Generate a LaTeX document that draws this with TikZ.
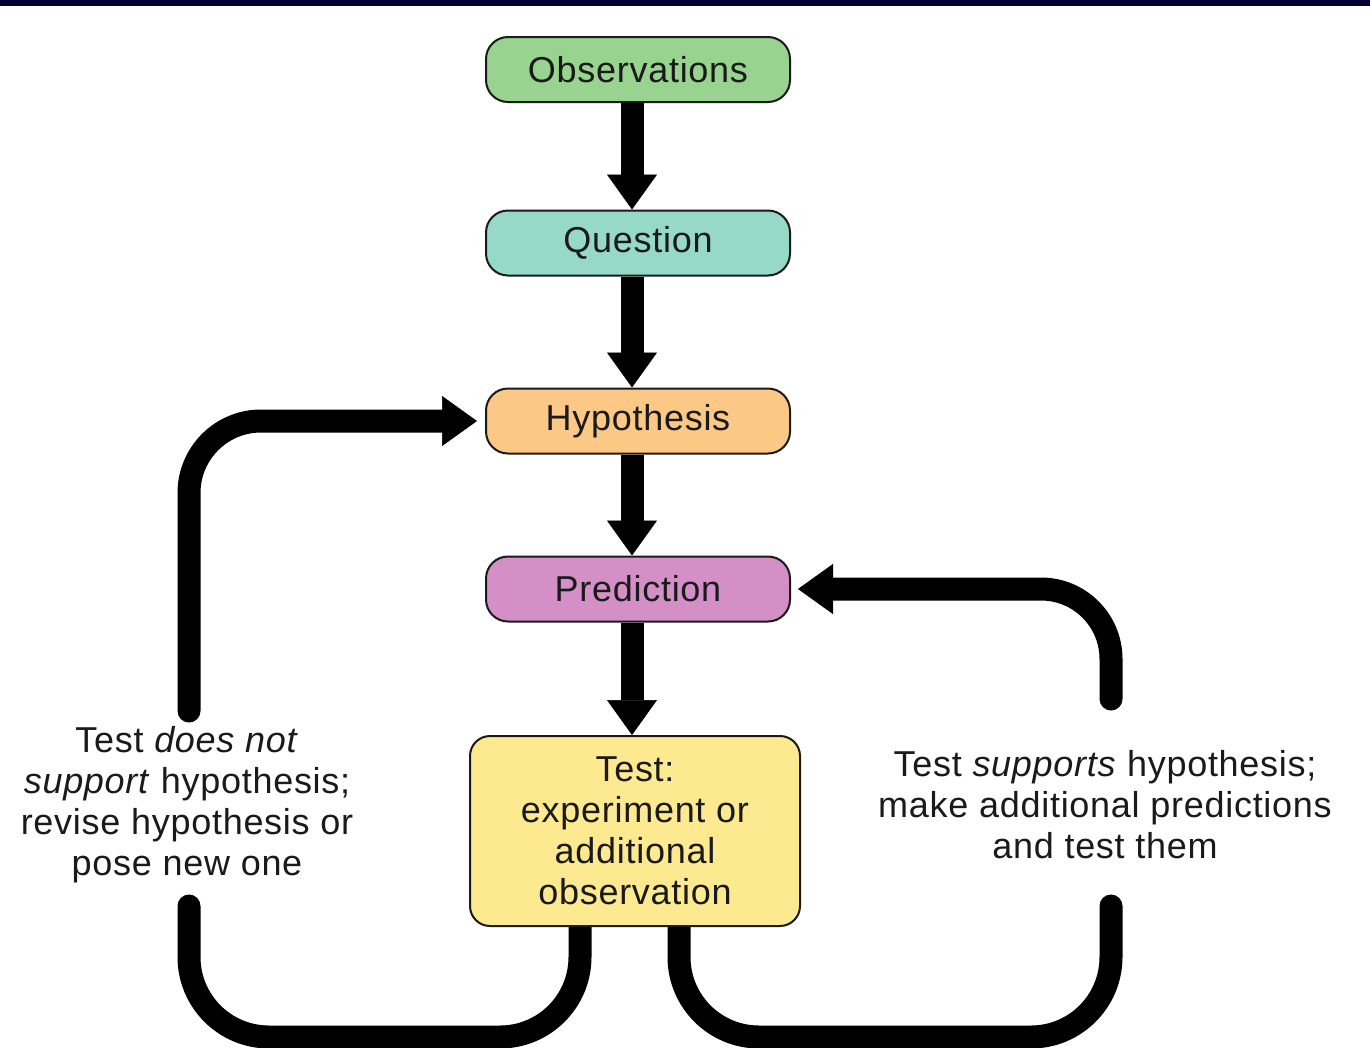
\documentclass[tikz,border=0pt]{standalone}
\usepackage{fontspec}
\setmainfont[LetterSpace=2]{Liberation Sans}
\usetikzlibrary{arrows.meta,backgrounds}
\definecolor{navy}{HTML}{000033}
\definecolor{obscol}{HTML}{98D48F}
\definecolor{quescol}{HTML}{96D9C8}
\definecolor{hypcol}{HTML}{FBC885}
\definecolor{predcol}{HTML}{D490C6}
\definecolor{testcol}{HTML}{FDE990}
\definecolor{ink}{HTML}{1A1A1A}
\begin{document}
\begin{tikzpicture}[x=1pt,y=-1pt,
  box/.style={draw=ink, line width=2pt, rounded corners=22pt, minimum width=304pt,
    minimum height=65pt, text=ink, font=\fontsize{36}{41}\selectfont, inner sep=0pt},
  bigtip/.style={-{Triangle[width=50pt,length=35pt,line width=0.5pt]}},
  flow/.style={line width=23pt, bigtip},
  loopline/.style={line width=23pt, line cap=round},
  lbl/.style={align=center, text=ink, font=\fontsize{36}{41}\selectfont, inner sep=0pt}]
\useasboundingbox (0,0) rectangle (1370,1047);
\fill[navy] (0,0) rectangle (1370,6);

\node[box, fill=obscol] (obs) at (638,69.5) {Observations};
\node[box, fill=quescol] (que) at (638,243) {Question};
\node[box, fill=hypcol] (hyp) at (638,421) {Hypothesis};
\node[box, fill=predcol] (pred) at (638,589) {Prediction};
\node[box, fill=testcol, minimum width=330pt, minimum height=190pt, align=center,
  rounded corners=20pt] (test) at (635,831) {Test:\\experiment or\\additional\\observation};

\node[lbl] (nosup) at (187,805) {Test \textit{does not}\\\textit{support} hypothesis;\\revise hypothesis or\\pose new one};
\node[lbl] (sup) at (1105,805) {Test \textit{supports} hypothesis;\\make additional predictions\\and test them};

\coordinate (lt) at (189,711);
\coordinate (lb) at (189,906);
\coordinate (lbc) at (189,1037);
\coordinate (rt) at (1111,699);
\coordinate (rb) at (1111,906);
\coordinate (rbc) at (1111,1037);

\begin{scope}[on background layer]
  \draw[flow] ([xshift=-6pt]obs.south) -- ([xshift=-6pt]que.north);
  \draw[flow] ([xshift=-6pt]que.south) -- ([xshift=-6pt]hyp.north);
  \draw[flow] ([xshift=-6pt]hyp.south) -- ([xshift=-6pt]pred.north);
  \draw[flow] ([xshift=-6pt]pred.south) -- ([xshift=-3pt]test.north);
  \draw[loopline, bigtip, rounded corners=72pt] (lt) |- ([xshift=-8pt]hyp.west);
  \draw[loopline, bigtip, rounded corners=70pt] (rt) |- ([xshift=7pt]pred.east);
  \draw[loopline, rounded corners=80pt] ([xshift=-55pt]test.south) -- ([xshift=-55pt]test.south |- lbc) -- (lbc) -- (lb);
  \draw[loopline, rounded corners=80pt] ([xshift=44pt]test.south) -- ([xshift=44pt]test.south |- rbc) -- (rbc) -- (rb);
\end{scope}
\end{tikzpicture}
\end{document}
